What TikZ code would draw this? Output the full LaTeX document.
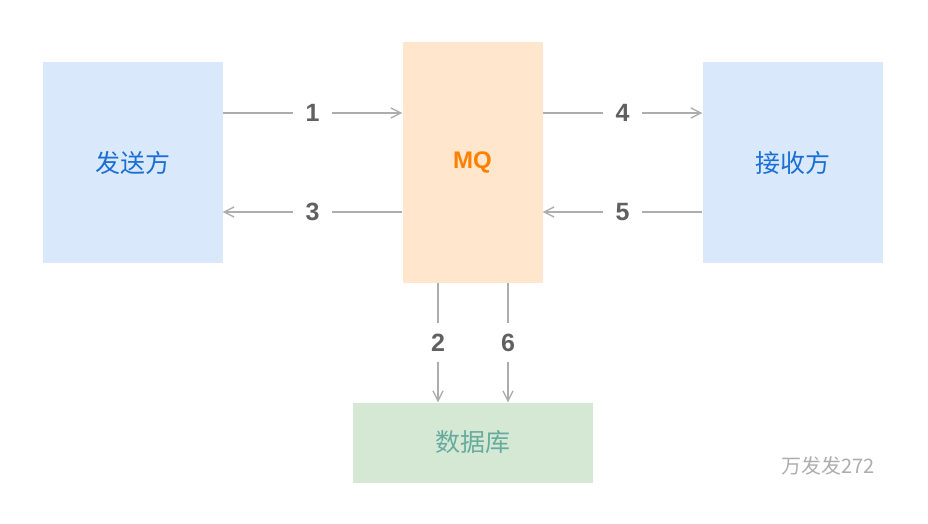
\documentclass[tikz,border=0pt]{standalone}
\usepackage{fontspec}
\setmainfont{Liberation Sans}
\newfontfamily\cjk{Noto Sans CJK SC}
\usetikzlibrary{arrows.meta}
\definecolor{sendfill}{HTML}{DAE8FC}
\definecolor{sendtext}{HTML}{1A6FD4}
\definecolor{mqfill}{HTML}{FFE6CC}
\definecolor{mqtext}{HTML}{FF8000}
\definecolor{dbfill}{HTML}{D5E8D4}
\definecolor{dbtext}{HTML}{67AB9F}
\definecolor{arrgray}{HTML}{ADADAD}
\definecolor{numgray}{HTML}{606060}
\tikzset{
  box/.style={inner sep=0pt, font=\cjk\fontsize{25}{30}\selectfont},
  arr/.style={draw=arrgray, line width=1.3pt, -{Straight Barb[length=10pt,width=10pt]}},
  num/.style={fill=white, inner xsep=13pt, inner ysep=11pt, text=numgray, font=\bfseries\fontsize{25}{30}\selectfont}
}
\begin{document}
\begin{tikzpicture}[x=1pt,y=-1pt]
  \useasboundingbox (0,0) rectangle (928,524);
  \node[box, fill=sendfill, text=sendtext, minimum width=180pt, minimum height=200pt] (send) at (132.5,162.5) {发送方};
  \node[box, fill=mqfill, text=mqtext, minimum width=140pt, minimum height=240pt, font=\bfseries\fontsize{24}{28}\selectfont] (mq) at (472.5,162.5) {MQ};
  \node[box, fill=sendfill, text=sendtext, minimum width=180pt, minimum height=200pt] (recv) at (792.5,162.5) {接收方};
  \node[box, fill=dbfill, text=dbtext, minimum width=240pt, minimum height=80pt] (db) at (472.5,442.5) {数据库};
  \node[text=arrgray, font=\cjk\fontsize{20}{24}\selectfont] (mark) at (828,466) {万发发272};

  \draw[arr] ([yshift=49.5pt]send.east) -- node[num] {1} ([yshift=49.5pt]mq.west);
  \draw[arr] ([yshift=-49.5pt]mq.west) -- node[num] {3} ([yshift=-49.5pt]send.east);
  \draw[arr] ([yshift=49.5pt]mq.east) -- node[num] {4} ([yshift=49.5pt]recv.west);
  \draw[arr] ([yshift=-49.5pt]recv.west) -- node[num] {5} ([yshift=-49.5pt]mq.east);
  \draw[arr] ([xshift=-34.5pt]mq.south) -- node[num] {2} ([xshift=-34.5pt]db.north);
  \draw[arr] ([xshift=35.5pt]mq.south) -- node[num] {6} ([xshift=35.5pt]db.north);
\end{tikzpicture}
\end{document}
